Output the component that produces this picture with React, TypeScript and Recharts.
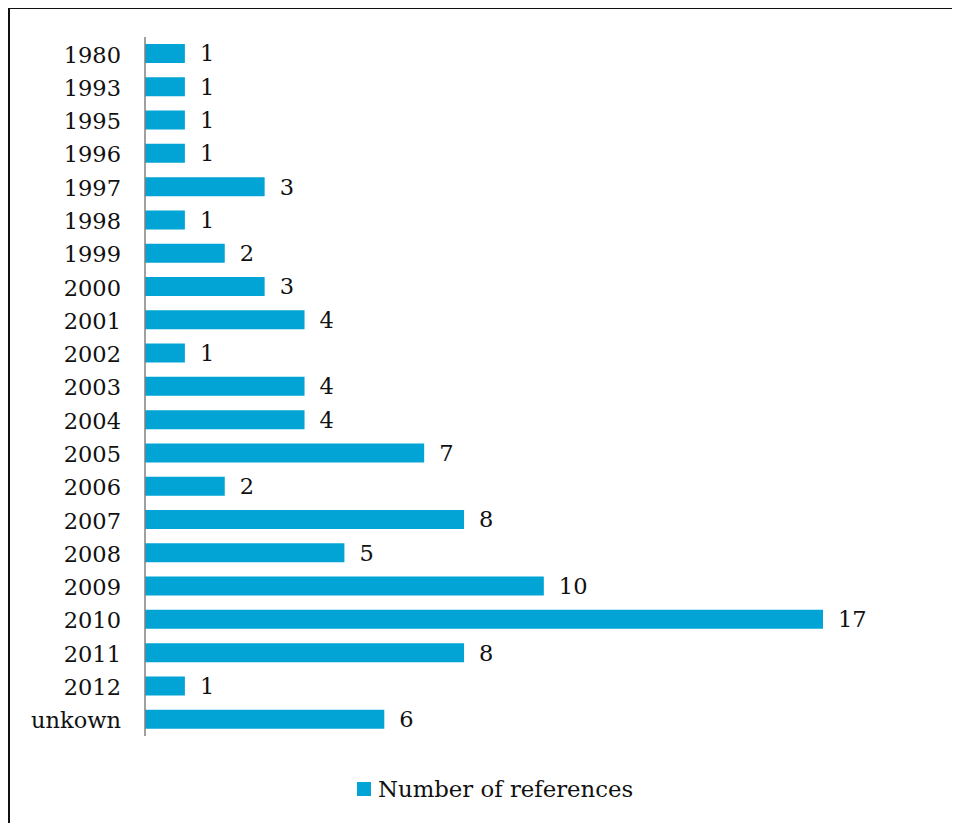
import { BarChart, Bar, XAxis, YAxis, LabelList } from 'recharts';

const years = [
  '1980', '1993', '1995', '1996', '1997', '1998', '1999', '2000', '2001', '2002', '2003',
  '2004', '2005', '2006', '2007', '2008', '2009', '2010', '2011', '2012', 'unkown',
];

const references = [1, 1, 1, 1, 3, 1, 2, 3, 4, 1, 4, 4, 7, 2, 8, 5, 10, 17, 8, 1, 6];

const seriesName = 'Number of references';

const data = years.map((year, i) => ({ year, count: references[i] }));

const FONT = '"DejaVu Serif", Georgia, serif';
const BLUE = '#02a3d5';

export default function App() {
  return (
    <div
      style={{
        position: 'relative',
        width: 1000,
        height: 830,
        borderTop: '2px solid #111',
        borderLeft: '2px solid #111',
        marginTop: -1,
        background: '#fff',
      }}
    >
      <style>{'html, body { overflow: hidden; }'}</style>
      <BarChart
        layout="vertical"
        width={948}
        height={741}
        data={data}
        margin={{ top: 28, right: 135, bottom: 14, left: 0 }}
      >
        <XAxis type="number" domain={[0, 17]} hide />
        <YAxis
          type="category"
          dataKey="year"
          width={135}
          tickLine={false}
          tickSize={0}
          tickMargin={24}
          axisLine={{ stroke: '#808080', strokeWidth: 1.5 }}
          tick={{ fill: '#111', fontSize: 22.5, fontFamily: FONT, dy: 1 }}
          interval={0}
        />
        <Bar dataKey="count" fill={BLUE} barSize={19} isAnimationActive={false}>
          <LabelList
            dataKey="count"
            position="right"
            offset={15}
            style={{ fill: '#111', fontSize: 22.5, fontFamily: FONT }}
          />
        </Bar>
      </BarChart>
      <div
        style={{
          position: 'absolute',
          left: 347,
          top: 767,
          display: 'flex',
          alignItems: 'center',
          fontFamily: FONT,
          fontSize: 22.8,
          color: '#111',
        }}
      >
        <span style={{ display: 'inline-block', width: 14, height: 14, background: BLUE, marginRight: 7 }} />
        {seriesName}
      </div>
    </div>
  );
}
